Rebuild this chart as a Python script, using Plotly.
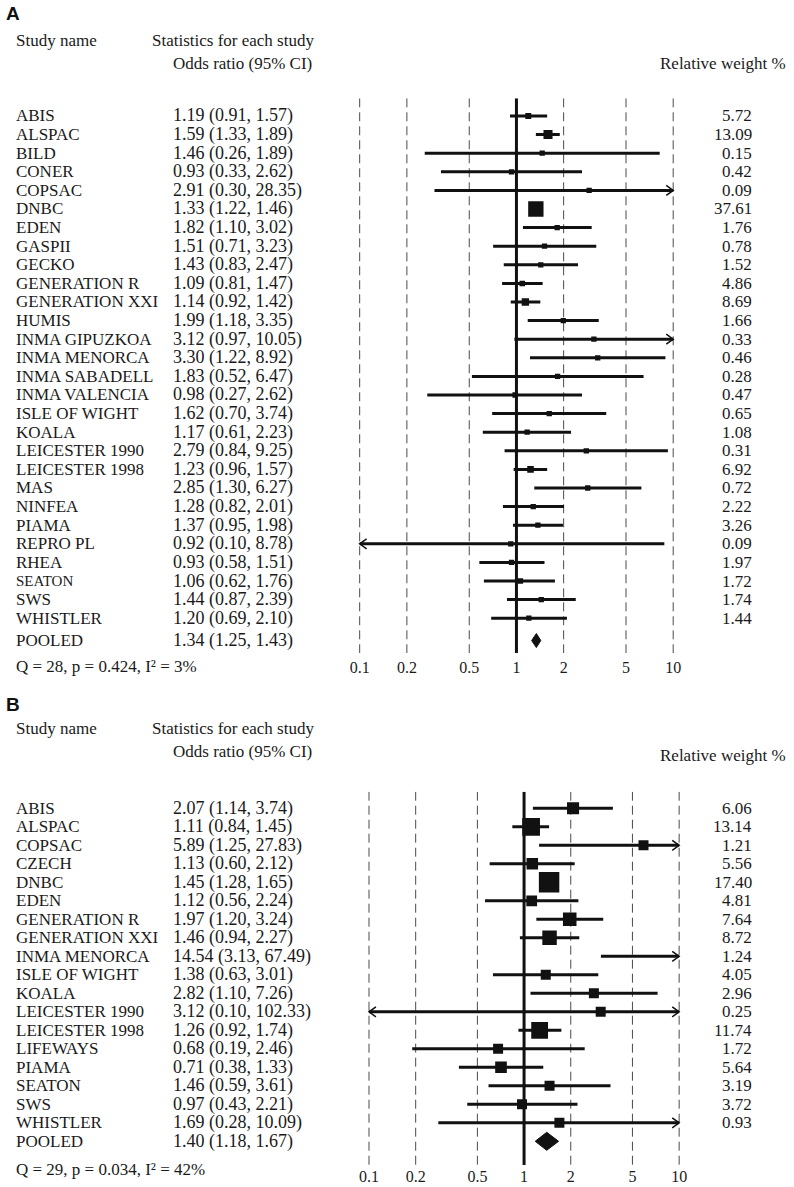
import math
import plotly.graph_objects as go

W, H = 794, 1187

# ---------------- Panel A data ----------------
A_studies = ["ABIS", "ALSPAC", "BILD", "CONER", "COPSAC", "DNBC", "EDEN", "GASPII", "GECKO",
             "GENERATION R", "GENERATION XXI", "HUMIS", "INMA GIPUZKOA", "INMA MENORCA",
             "INMA SABADELL", "INMA VALENCIA", "ISLE OF WIGHT", "KOALA", "LEICESTER 1990",
             "LEICESTER 1998", "MAS", "NINFEA", "PIAMA", "REPRO PL", "RHEA", "SEATON", "SWS", "WHISTLER"]
A_or = [1.19, 1.59, 1.46, 0.93, 2.91, 1.33, 1.82, 1.51, 1.43, 1.09, 1.14, 1.99, 3.12, 3.30, 1.83,
        0.98, 1.62, 1.17, 2.79, 1.23, 2.85, 1.28, 1.37, 0.92, 0.93, 1.06, 1.44, 1.20]
A_lo = [0.91, 1.33, 0.26, 0.33, 0.30, 1.22, 1.10, 0.71, 0.83, 0.81, 0.92, 1.18, 0.97, 1.22, 0.52,
        0.27, 0.70, 0.61, 0.84, 0.96, 1.30, 0.82, 0.95, 0.10, 0.58, 0.62, 0.87, 0.69]
A_hi = [1.57, 1.89, 8.20, 2.62, 28.35, 1.46, 3.02, 3.23, 2.47, 1.47, 1.42, 3.35, 10.05, 8.92, 6.47,
        2.62, 3.74, 2.23, 9.25, 1.57, 6.27, 2.01, 1.98, 8.78, 1.51, 1.76, 2.39, 2.10]
A_or_text = ["1.19 (0.91, 1.57)", "1.59 (1.33, 1.89)", "1.46 (0.26, 1.89)", "0.93 (0.33, 2.62)",
             "2.91 (0.30, 28.35)", "1.33 (1.22, 1.46)", "1.82 (1.10, 3.02)", "1.51 (0.71, 3.23)",
             "1.43 (0.83, 2.47)", "1.09 (0.81, 1.47)", "1.14 (0.92, 1.42)", "1.99 (1.18, 3.35)",
             "3.12 (0.97, 10.05)", "3.30 (1.22, 8.92)", "1.83 (0.52, 6.47)", "0.98 (0.27, 2.62)",
             "1.62 (0.70, 3.74)", "1.17 (0.61, 2.23)", "2.79 (0.84, 9.25)", "1.23 (0.96, 1.57)",
             "2.85 (1.30, 6.27)", "1.28 (0.82, 2.01)", "1.37 (0.95, 1.98)", "0.92 (0.10, 8.78)",
             "0.93 (0.58, 1.51)", "1.06 (0.62, 1.76)", "1.44 (0.87, 2.39)", "1.20 (0.69, 2.10)"]
A_w = [5.72, 13.09, 0.15, 0.42, 0.09, 37.61, 1.76, 0.78, 1.52, 4.86, 8.69, 1.66, 0.33, 0.46, 0.28,
       0.47, 0.65, 1.08, 0.31, 6.92, 0.72, 2.22, 3.26, 0.09, 1.97, 1.72, 1.74, 1.44]
A_w_text = ["5.72", "13.09", "0.15", "0.42", "0.09", "37.61", "1.76", "0.78", "1.52", "4.86", "8.69",
            "1.66", "0.33", "0.46", "0.28", "0.47", "0.65", "1.08", "0.31", "6.92", "0.72", "2.22",
            "3.26", "0.09", "1.97", "1.72", "1.74", "1.44"]
A_pooled = (1.34, 1.25, 1.43)
A_pooled_text = "1.34 (1.25, 1.43)"
A_stats = "Q = 28, p = 0.424, I² = 3%"

# ---------------- Panel B data ----------------
B_studies = ["ABIS", "ALSPAC", "COPSAC", "CZECH", "DNBC", "EDEN", "GENERATION R", "GENERATION XXI",
             "INMA MENORCA", "ISLE OF WIGHT", "KOALA", "LEICESTER 1990", "LEICESTER 1998", "LIFEWAYS",
             "PIAMA", "SEATON", "SWS", "WHISTLER"]
B_or = [2.07, 1.11, 5.89, 1.13, 1.45, 1.12, 1.97, 1.46, 14.54, 1.38, 2.82, 3.12, 1.26, 0.68, 0.71,
        1.46, 0.97, 1.69]
B_lo = [1.14, 0.84, 1.25, 0.60, 1.28, 0.56, 1.20, 0.94, 3.13, 0.63, 1.10, 0.10, 0.92, 0.19, 0.38,
        0.59, 0.43, 0.28]
B_hi = [3.74, 1.45, 27.83, 2.12, 1.65, 2.24, 3.24, 2.27, 67.49, 3.01, 7.26, 102.33, 1.74, 2.46, 1.33,
        3.61, 2.21, 10.09]
B_or_text = ["2.07 (1.14, 3.74)", "1.11 (0.84, 1.45)", "5.89 (1.25, 27.83)", "1.13 (0.60, 2.12)",
             "1.45 (1.28, 1.65)", "1.12 (0.56, 2.24)", "1.97 (1.20, 3.24)", "1.46 (0.94, 2.27)",
             "14.54 (3.13, 67.49)", "1.38 (0.63, 3.01)", "2.82 (1.10, 7.26)", "3.12 (0.10, 102.33)",
             "1.26 (0.92, 1.74)", "0.68 (0.19, 2.46)", "0.71 (0.38, 1.33)", "1.46 (0.59, 3.61)",
             "0.97 (0.43, 2.21)", "1.69 (0.28, 10.09)"]
B_w = [6.06, 13.14, 1.21, 5.56, 17.40, 4.81, 7.64, 8.72, 1.24, 4.05, 2.96, 0.25, 11.74, 1.72, 5.64,
       3.19, 3.72, 0.93]
B_w_text = ["6.06", "13.14", "1.21", "5.56", "17.40", "4.81", "7.64", "8.72", "1.24", "4.05", "2.96",
            "0.25", "11.74", "1.72", "5.64", "3.19", "3.72", "0.93"]
B_pooled = (1.40, 1.18, 1.67)
B_pooled_text = "1.40 (1.18, 1.67)"
B_stats = "Q = 29, p = 0.034, I² = 42%"

tick_vals = [0.1, 0.2, 0.5, 1, 2, 5, 10]
tick_text = ["0.1", "0.2", "0.5", "1", "2", "5", "10"]

SERIF = "Liberation Serif"
TXT = "#1a1a1a"
LPAD = 5  # annotation box inset compensation

fig = go.Figure()


def px_x(p):
    return p / W


def px_y(p):
    return 1 - p / H


panels = [
    dict(name="A", xa="x", ya="y", studies=A_studies, est=A_or, lo=A_lo, hi=A_hi, ortext=A_or_text,
         w=A_w, wtext=A_w_text, pooled=A_pooled, ptext=A_pooled_text, stats=A_stats,
         x01=358.3, x10=675.0, row0=116.0, step=18.6, pooled_row=28.2, top=98.3, bot=653.0,
         size_k=2.5, size_min=5.3, diamond_h=7.0, standoff=3,
         label_y=13, study_y=40, odds_y=63, rel_y=63, stats_y=666.7, small={"SEATON": 15}),
    dict(name="B", xa="x2", ya="y2", studies=B_studies, est=B_or, lo=B_lo, hi=B_hi, ortext=B_or_text,
         w=B_w, wtext=B_w_text, pooled=B_pooled, ptext=B_pooled_text, stats=B_stats,
         x01=367.7, x10=681.0, row0=808.3, step=18.5, pooled_row=18.0, top=791.7, bot=1165.0,
         size_k=4.9, size_min=10.0, diamond_h=9.0, standoff=0,
         label_y=704, study_y=728, odds_y=751, rel_y=755, stats_y=1169.3, small={}),
]

annotations = []
layout_axes = {}


def txt(text, x, y, yref="paper", anchor="left", size=17, family=SERIF, color=TXT):
    xx = x - LPAD if anchor == "left" else x + LPAD
    return dict(text=text, xref="paper", yref=yref, x=px_x(xx), y=y, xanchor=anchor,
                yanchor="middle", showarrow=False, font=dict(family=family, size=size, color=color))


for k, P in enumerate(panels):
    xa, ya = P["xa"], P["ya"]
    dec = (P["x10"] - P["x01"]) / 2.0
    pad = 0.03
    xl = P["x01"] - pad * dec
    xr = P["x10"] + pad * dec
    ytop = (P["top"] - P["row0"]) / P["step"]
    ybot = (P["bot"] - P["row0"]) / P["step"]

    axname_x = "xaxis" if k == 0 else "xaxis2"
    axname_y = "yaxis" if k == 0 else "yaxis2"
    layout_axes[axname_x] = dict(
        type="log", range=[-1 - pad, 1 + pad], domain=[px_x(xl), px_x(xr)],
        anchor=ya, showgrid=False, zeroline=False, showline=False, ticks="",
        tickvals=tick_vals, ticktext=tick_text, ticklabelstandoff=P["standoff"],
        tickfont=dict(family=SERIF, size=16, color=TXT), fixedrange=True,
    )
    layout_axes[axname_y] = dict(
        range=[ybot, ytop], domain=[px_y(P["bot"]), px_y(P["top"])], anchor=xa,
        showgrid=False, zeroline=False, showline=False, showticklabels=False, ticks="",
        fixedrange=True,
    )

    # dashed reference lines
    for v in tick_vals:
        if v == 1:
            continue
        fig.add_trace(go.Scatter(x=[v, v], y=[ytop, ybot], mode="lines", xaxis=xa, yaxis=ya,
                                 line=dict(color="#4a4a4a", width=1, dash="9px,5px"),
                                 hoverinfo="skip", showlegend=False))
    # solid line of no effect
    fig.add_trace(go.Scatter(x=[1, 1], y=[ytop, ybot], mode="lines", xaxis=xa, yaxis=ya,
                             line=dict(color="#111111", width=3), hoverinfo="skip", showlegend=False))

    arm_dx = 7.0 / dec
    arm_dy = 5.0 / P["step"]
    n = len(P["studies"])
    for i in range(n):
        lo, hi, est = P["lo"][i], P["hi"][i], P["est"][i]
        a = max(lo, 0.1)
        b = min(hi, 10.0)
        fig.add_trace(go.Scatter(x=[a, b], y=[i, i], mode="lines", xaxis=xa, yaxis=ya,
                                 line=dict(color="#111111", width=3), hoverinfo="skip",
                                 showlegend=False))
        if hi > 10:
            fig.add_trace(go.Scatter(x=[10 / 10 ** arm_dx, 10, 10 / 10 ** arm_dx],
                                     y=[i - arm_dy, i, i + arm_dy], mode="lines", xaxis=xa, yaxis=ya,
                                     line=dict(color="#111111", width=1.5), hoverinfo="skip",
                                     showlegend=False))
        if lo <= 0.1:
            fig.add_trace(go.Scatter(x=[0.1 * 10 ** arm_dx, 0.1, 0.1 * 10 ** arm_dx],
                                     y=[i - arm_dy, i, i + arm_dy], mode="lines", xaxis=xa, yaxis=ya,
                                     line=dict(color="#111111", width=1.5), hoverinfo="skip",
                                     showlegend=False))
    # study squares (size from weight)
    vis = [i for i in range(n) if 0.1 <= P["est"][i] <= 10]
    fig.add_trace(go.Scatter(
        x=[P["est"][i] for i in vis], y=vis, mode="markers", xaxis=xa, yaxis=ya,
        marker=dict(symbol="square", color="#111111", opacity=1,
                    size=[max(P["size_min"], P["size_k"] * math.sqrt(P["w"][i])) for i in vis],
                    line=dict(width=0)),
        hoverinfo="skip", showlegend=False))

    # pooled diamond
    pe, pl, ph = P["pooled"]
    pr = P["pooled_row"]
    dh = P["diamond_h"] / P["step"]
    fig.add_trace(go.Scatter(x=[pl, pe, ph, pe, pl], y=[pr, pr - dh, pr, pr + dh, pr],
                             mode="lines", fill="toself", fillcolor="#111111",
                             line=dict(color="#111111", width=1), xaxis=xa, yaxis=ya,
                             hoverinfo="skip", showlegend=False))

    # text columns
    for i in range(n):
        fs = P["small"].get(P["studies"][i], 17)
        annotations.append(txt(P["studies"][i], 14, i, yref=ya, size=fs))
        annotations.append(txt(P["ortext"][i], 173, i, yref=ya, size=18))
        annotations.append(txt(P["wtext"][i], 752, i, yref=ya, anchor="right"))
    annotations.append(txt("POOLED", 14, pr, yref=ya))
    annotations.append(txt(P["ptext"], 173, pr, yref=ya, size=18))
    annotations.append(txt(P["stats"], 14, px_y(P["stats_y"])))
    # headers
    annotations.append(txt("<b>" + P["name"] + "</b>", 4, px_y(P["label_y"]), size=19,
                           family="Liberation Sans", color="#111111"))
    annotations.append(txt("Study name", 14, px_y(P["study_y"])))
    annotations.append(txt("Statistics for each study", 151, px_y(P["study_y"])))
    annotations.append(txt("Odds ratio (95% CI)", 173, px_y(P["odds_y"])))
    annotations.append(txt("Relative weight %", 665, px_y(P["rel_y"])))

fig.update_layout(
    width=W, height=H, margin=dict(l=0, r=0, t=0, b=0),
    paper_bgcolor="white", plot_bgcolor="white", showlegend=False,
    annotations=annotations, **layout_axes,
)

fig.write_html("out.html", config={"displayModeBar": False},
               post_script="document.body.style.margin='0px';document.body.style.overflow='hidden';")
